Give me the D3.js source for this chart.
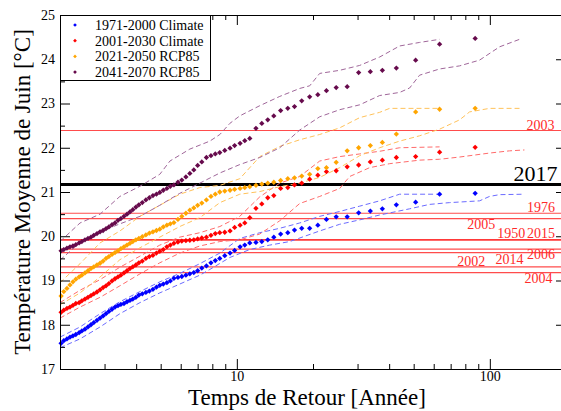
<!DOCTYPE html>
<html>
<head>
<meta charset="utf-8">
<script src="https://cdn.jsdelivr.net/npm/d3@7"></script>
<style>
  body { margin: 0; background: #fff; }
  svg { display: block; font-family: "Liberation Serif", "Times New Roman", serif; }
</style>
</head>
<body>
<div id="chart"></div>
<script>

// Temps de retour (années), communs aux quatre séries
const returnPeriods = [
  87.5, 63.3, 50.9, 42.7, 37.6, 33.7, 30.3, 27.3, 24.7, 22.6,
  20.9, 19.4, 18.05, 16.9, 15.9, 14.9, 14.0, 13.25, 12.55, 11.9,
  11.25, 10.75, 10.3, 9.8, 9.4, 8.96, 8.56, 8.22, 7.9, 7.58,
  7.27, 7.0, 6.76, 6.52, 6.29, 6.06, 5.85, 5.64, 5.46, 5.29,
  5.12, 4.96, 4.81, 4.66, 4.51, 4.37, 4.23, 4.10, 3.99, 3.88,
  3.78, 3.68, 3.58, 3.48, 3.39, 3.30, 3.21, 3.12, 3.04, 2.96,
  2.88, 2.80, 2.72, 2.65, 2.58, 2.51, 2.44, 2.38, 2.31, 2.25,
  2.19, 2.13, 2.07, 2.02
];

// Températures (°C) par série
const temps1971 = [
  20.97, 20.95, 20.77, 20.71, 20.62, 20.57, 20.53, 20.44, 20.44, 20.38,
  20.25, 20.18, 20.18, 20.14, 20.08, 20.05, 19.98, 19.92, 19.88, 19.86,
  19.85, 19.80, 19.76, 19.68, 19.62, 19.56, 19.50, 19.45, 19.40, 19.33,
  19.28, 19.22, 19.18, 19.15, 19.12, 19.09, 19.07, 19.05, 18.99, 18.95,
  18.92, 18.89, 18.85, 18.80, 18.76, 18.73, 18.70, 18.67, 18.62, 18.58,
  18.55, 18.52, 18.48, 18.46, 18.43, 18.40, 18.35, 18.30, 18.25, 18.20,
  18.15, 18.10, 18.05, 18.00, 17.95, 17.90, 17.86, 17.82, 17.78, 17.75,
  17.72, 17.68, 17.64, 17.58
];
const temps2001 = [
  22.01, 21.90, 21.80, 21.78, 21.72, 21.68, 21.61, 21.57, 21.48, 21.46,
  21.38, 21.29, 21.20, 21.16, 21.10, 21.08, 20.92, 20.87, 20.73, 20.63,
  20.42, 20.30, 20.25, 20.20, 20.12, 20.09, 20.08, 20.06, 20.02, 19.98,
  19.96, 19.94, 19.92, 19.91, 19.90, 19.89, 19.87, 19.84, 19.80, 19.76,
  19.70, 19.66, 19.62, 19.57, 19.54, 19.50, 19.44, 19.40, 19.35, 19.31,
  19.27, 19.22, 19.17, 19.12, 19.08, 19.04, 18.99, 18.93, 18.88, 18.84,
  18.79, 18.74, 18.70, 18.66, 18.62, 18.58, 18.54, 18.50, 18.48, 18.44,
  18.40, 18.37, 18.33, 18.28
];
const temps2021 = [
  22.89, 22.87, 22.81, 22.31, 22.12, 22.05, 22.00, 21.93, 21.67, 21.55,
  21.53, 21.40, 21.36, 21.32, 21.30, 21.26, 21.22, 21.20, 21.18, 21.15,
  21.12, 21.10, 21.08, 21.06, 21.04, 21.02, 21.00, 20.95, 20.90, 20.82,
  20.75, 20.70, 20.64, 20.59, 20.52, 20.45, 20.38, 20.31, 20.28, 20.25,
  20.21, 20.16, 20.13, 20.10, 20.07, 20.03, 19.99, 19.95, 19.92, 19.88,
  19.84, 19.80, 19.76, 19.72, 19.67, 19.63, 19.59, 19.54, 19.50, 19.44,
  19.39, 19.35, 19.31, 19.27, 19.22, 19.17, 19.12, 19.08, 19.03, 18.97,
  18.90, 18.82, 18.75, 18.65
];
const temps2041 = [
  24.47, 24.34, 23.98, 23.80, 23.75, 23.72, 23.70, 23.38, 23.36, 23.29,
  23.20, 23.15, 23.06, 22.93, 22.89, 22.84, 22.72, 22.63, 22.55, 22.44,
  22.21, 22.16, 22.10, 22.05, 21.99, 21.94, 21.89, 21.86, 21.82, 21.78,
  21.68, 21.60, 21.50, 21.42, 21.34, 21.27, 21.22, 21.16, 21.13, 21.08,
  21.04, 20.99, 20.95, 20.92, 20.87, 20.82, 20.76, 20.71, 20.66, 20.60,
  20.55, 20.50, 20.45, 20.40, 20.36, 20.30, 20.26, 20.21, 20.17, 20.13,
  20.10, 20.06, 20.02, 19.98, 19.95, 19.92, 19.88, 19.85, 19.81, 19.78,
  19.76, 19.73, 19.70, 19.67
];

// Intervalles de confiance [temps de retour, température]
const upper1971 = [[2.00,17.72],[2.40,17.95],[2.88,18.25],[3.45,18.52],[4.14,18.75],[4.96,18.97],[5.95,19.16],[7.14,19.38],[8.57,19.62],[10.27,19.95],[12.32,20.08],[14.78,20.18],[17.72,20.30],[21.26,20.45],[25.5,20.56],[30.58,20.68],[36.68,20.80],[44.0,20.95],[63.29,20.95]];
const lower1971 = [[2.00,17.48],[2.40,17.68],[2.88,17.95],[3.45,18.25],[4.14,18.50],[4.96,18.72],[5.95,18.92],[7.14,19.12],[7.82,19.25],[9.38,19.52],[11.25,19.70],[13.49,19.80],[16.18,19.88],[21.26,20.12],[25.5,20.27],[30.58,20.37],[36.68,20.48],[48.18,20.62],[57.79,20.72],[69.32,20.76],[91.06,20.80],[99.73,20.90],[109.2,20.94],[137.0,20.95]];
const upper2001 = [[2.00,18.50],[2.40,18.78],[2.88,19.02],[3.45,19.30],[4.14,19.55],[4.96,19.80],[5.95,19.98],[7.14,20.08],[8.57,20.22],[10.27,20.45],[12.32,20.89],[14.78,21.20],[17.72,21.35],[21.26,21.70],[25.5,21.80],[30.58,21.86],[36.68,21.92],[44.0,22.00],[63.29,22.02]];
const lower2001 = [[2.00,18.15],[2.40,18.40],[2.88,18.62],[3.45,18.88],[4.14,19.15],[4.96,19.40],[5.95,19.62],[7.14,19.78],[8.57,19.88],[10.27,19.92],[12.32,20.05],[14.78,20.35],[17.72,20.74],[21.26,20.90],[25.5,21.08],[27.92,21.35],[33.49,21.55],[40.17,21.64],[52.77,21.72],[63.29,21.74],[75.92,21.79],[99.73,21.88],[119.6,21.93],[137.0,21.95]];
const upper2021 = [[2.00,18.95],[2.40,19.38],[2.88,19.85],[3.45,20.12],[4.14,20.45],[4.96,20.70],[5.95,20.95],[7.14,21.10],[8.57,21.15],[10.27,21.30],[12.32,21.80],[14.78,22.03],[17.72,22.18],[21.26,22.30],[25.5,22.45],[30.58,22.68],[36.68,22.80],[40.17,22.89],[63.29,22.89]];
const lower2021 = [[2.00,18.45],[2.40,18.72],[2.88,19.08],[3.45,19.47],[4.14,19.74],[4.96,19.98],[5.95,20.22],[7.14,20.42],[8.57,20.76],[10.27,20.95],[12.32,21.01],[14.78,21.12],[17.72,21.20],[21.26,21.33],[25.5,21.55],[30.58,21.82],[36.68,22.00],[44.0,22.15],[52.77,22.27],[63.29,22.42],[75.92,22.63],[83.14,22.81],[99.73,22.89],[131.0,22.89]];
const upper2041 = [[2.00,19.88],[2.40,20.30],[2.88,20.50],[3.45,20.90],[4.14,21.13],[4.96,21.40],[5.44,21.70],[6.52,21.97],[7.82,22.15],[8.57,22.30],[9.38,22.55],[10.27,22.72],[12.32,22.95],[14.78,23.16],[17.72,23.34],[19.41,23.40],[21.26,23.68],[25.5,23.75],[30.58,23.86],[36.68,24.05],[44.0,24.30],[52.77,24.38],[63.29,24.45]];
const lower2041 = [[2.00,19.46],[2.40,19.86],[2.88,20.10],[3.45,20.28],[4.14,20.45],[4.96,20.70],[5.95,20.97],[7.14,21.20],[8.57,21.43],[10.27,21.62],[12.32,21.78],[14.78,22.00],[17.72,22.40],[21.26,22.70],[25.5,22.86],[30.58,22.97],[36.68,23.18],[44.0,23.25],[48.18,23.35],[52.77,23.64],[63.29,23.78],[75.92,23.85],[91.06,23.98],[109.2,24.28],[131.0,24.45]];

const seriesNames = ['1971-2000 Climate', '2001-2030 Climate', '2021-2050 RCP85', '2041-2070 RCP85'];

// Années de référence (lignes horizontales)
const refYears = [2003, 1976, 2005, 1950, 2015, 2006, 2014, 2002, 2004];
const refTemps = [22.39, 20.52, 20.40, 19.92, 19.92, 19.71, 19.63, 19.31, 19.18];
const year2017 = 21.17;

// Graduations
const xTickValues = [10, 100];
const xMinorTicks = [3, 4, 5, 6, 7, 8, 9, 20, 30, 40, 50, 60, 70, 80, 90, 200];
const yTickValues = [17, 18, 19, 20, 21, 22, 23, 24, 25];
const yMinorTicks = [17.5, 18.5, 19.5, 20.5, 21.5, 22.5, 23.5, 24.5];

// Placement des étiquettes d'années (ancre droite en temps de retour, décalage vertical en px)
const yearLabelLayout = [
  { year: 2003, at: 180, dy: 0 },
  { year: 1976, at: 181, dy: -1 },
  { year: 2005, at: 105, dy: 10 },
  { year: 1950, at: 138, dy: -2 },
  { year: 2015, at: 181, dy: -2 },
  { year: 2006, at: 181, dy: 10 },
  { year: 2014, at: 136, dy: 11 },
  { year: 2002, at: 96, dy: -1 },
  { year: 2004, at: 177, dy: 10 }
];

/* ============================================ */

let width = 561;
let height = 411;

let svg = d3.select('#chart')
            .append('svg')
            .attr('width', width)
            .attr('height', height);

let x = d3.scaleLog().domain([2, 200]).range([60, 566]);
let y = d3.scaleLinear().domain([17, 25]).range([369, 15]);

// Tableau des séries
let series = [
  { name: seriesNames[0], temps: temps1971, upper: upper1971, lower: lower1971, color: '#0000ff', light: '#6b6bff' },
  { name: seriesNames[1], temps: temps2001, upper: upper2001, lower: lower2001, color: '#ff0000', light: '#ff6b6b' },
  { name: seriesNames[2], temps: temps2021, upper: upper2021, lower: lower2021, color: '#ffa500', light: '#ffc25a' },
  { name: seriesNames[3], temps: temps2041, upper: upper2041, lower: lower2041, color: '#660a4c', light: '#a0679a' }
];

// Lignes des années de référence
svg.append('g')
  .selectAll('line')
  .data(refTemps)
  .enter()
  .append('line')
  .attr('x1', x(2))
  .attr('x2', x(200))
  .attr('y1', d => y(d))
  .attr('y2', d => y(d))
  .attr('stroke', '#ff0000')
  .attr('stroke-opacity', 0.7)
  .attr('stroke-width', 1.2);

// Ligne 2017
svg.append('line')
  .attr('x1', x(2))
  .attr('x2', x(200))
  .attr('y1', y(year2017))
  .attr('y2', y(year2017))
  .attr('stroke', '#000')
  .attr('stroke-width', 3);

// Intervalles de confiance en pointillés
let line = d3.line()
             .x(d => x(d[0]))
             .y(d => y(d[1]));

series.forEach(s => {
  [s.upper, s.lower].forEach(band => {
    svg.append('path')
      .datum(band)
      .attr('fill', 'none')
      .attr('stroke', s.light)
      .attr('stroke-width', 1)
      .attr('stroke-dasharray', '5,3')
      .attr('d', line);
  });
});

// Points
let diamond = d3.symbol().type(d3.symbolSquare).size(14);

series.forEach(s => {
  svg.append('g')
    .selectAll('path')
    .data(s.temps)
    .enter()
    .append('path')
    .attr('d', diamond)
    .attr('fill', s.color)
    .attr('transform', (d, i) => `translate(${x(returnPeriods[i])},${y(d)}) rotate(45)`);
});

// Axes
function styleAxis(g) {
  g.selectAll('path, line').attr('stroke', '#000').attr('stroke-width', 1);
  g.selectAll('text').attr('font-size', 14).attr('font-family', 'Liberation Serif, serif').attr('fill', '#000');
}

function drawAxis(axisFn, scale, translate, major, minor, labels) {
  svg.append('g')
    .attr('transform', translate)
    .call(axisFn(scale).tickValues(minor).tickSize(-5).tickSizeOuter(0).tickFormat(''))
    .call(g => g.selectAll('text').remove())
    .call(styleAxis);
  svg.append('g')
    .attr('transform', translate)
    .call(axisFn(scale).tickValues(major).tickSize(-10).tickSizeOuter(0).tickPadding(labels && axisFn === d3.axisBottom ? 2 : 5)
          .tickFormat(labels ? d3.format('d') : ''))
    .call(g => { if (!labels) g.selectAll('text').remove(); })
    .call(styleAxis);
}

drawAxis(d3.axisBottom, x, 'translate(0,369)', xTickValues, xMinorTicks, true);
drawAxis(d3.axisTop, x, 'translate(0,15)', xTickValues, xMinorTicks, false);
drawAxis(d3.axisLeft, y, 'translate(60,0)', yTickValues, yMinorTicks, true);
drawAxis(d3.axisRight, y, 'translate(566,0)', yTickValues, yMinorTicks, false);

// Titres des axes
svg.append('text')
  .attr('x', 307)
  .attr('y', 405)
  .attr('text-anchor', 'middle')
  .attr('font-size', 23)
  .text('Temps de Retour [Année]');

svg.append('text')
  .attr('transform', 'translate(30,192) rotate(-90)')
  .attr('text-anchor', 'middle')
  .attr('font-size', 23)
  .text('Température Moyenne de Juin [°C]');

// Étiquettes des années
yearLabelLayout.forEach(l => {
  let t = refTemps[refYears.indexOf(l.year)];
  svg.append('text')
    .attr('x', x(l.at))
    .attr('y', y(t) + l.dy)
    .attr('text-anchor', 'end')
    .attr('font-size', 14)
    .attr('fill', '#ff2a2a')
    .text(l.year);
});

svg.append('text')
  .attr('x', x(185))
  .attr('y', y(year2017) - 3)
  .attr('text-anchor', 'end')
  .attr('font-size', 22)
  .text('2017');

// Légende
let legend = svg.append('g');

legend.append('rect')
  .attr('x', 60.5)
  .attr('y', 15.5)
  .attr('width', 150)
  .attr('height', 65)
  .attr('fill', '#fff')
  .attr('stroke', '#000')
  .attr('stroke-width', 1);

let legendMark = d3.symbol().type(d3.symbolSquare).size(7);

series.forEach((s, i) => {
  legend.append('path')
    .attr('d', legendMark)
    .attr('fill', s.color)
    .attr('transform', `translate(75,${25 + i * 15.7}) rotate(45)`);
  legend.append('text')
    .attr('x', 95)
    .attr('y', 30 + i * 15.7)
    .attr('font-size', 14)
    .text(s.name);
});

</script>
</body>
</html>
